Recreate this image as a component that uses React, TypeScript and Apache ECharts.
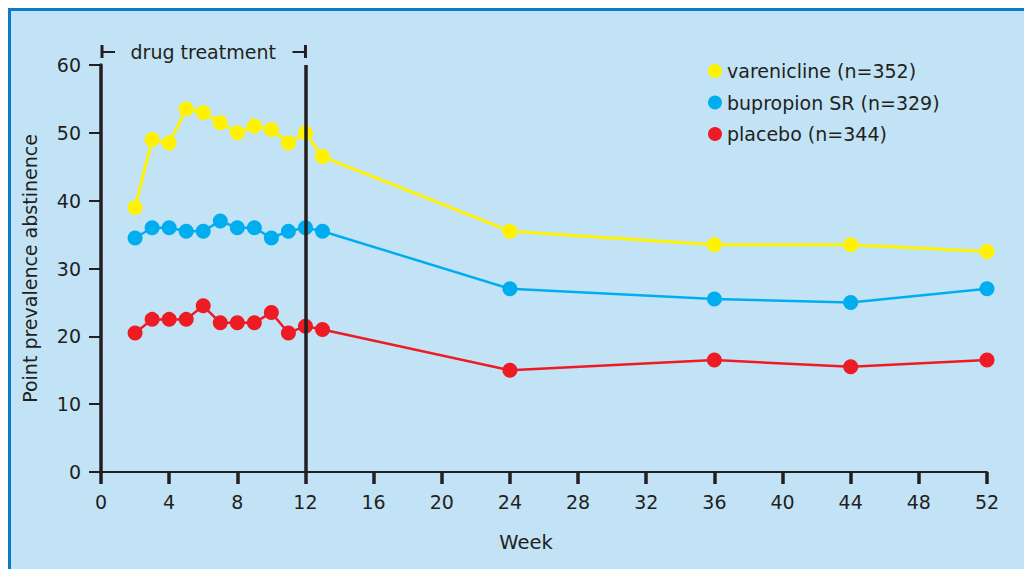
import React, { useEffect, useRef } from "react";
import * as echarts from "echarts";

const weeks = [2, 3, 4, 5, 6, 7, 8, 9, 10, 11, 12, 13, 24, 36, 44, 52];
const varenicline = [39, 49, 48.5, 53.5, 53, 51.5, 50, 51, 50.5, 48.5, 50, 46.5, 35.5, 33.5, 33.5, 32.5];
const bupropion = [34.5, 36, 36, 35.5, 35.5, 37, 36, 36, 34.5, 35.5, 36, 35.5, 27, 25.5, 25, 27];
const placebo = [20.5, 22.5, 22.5, 22.5, 24.5, 22, 22, 22, 23.5, 20.5, 21.5, 21, 15, 16.5, 15.5, 16.5];
const seriesNames = ["varenicline (n=352)", "bupropion SR (n=329)", "placebo (n=344)"];
const seriesColors = ["#fff200", "#00aeef", "#ed1c24"];
const treatmentEnd = 12;
const bracketLabel = "drug treatment";

const FONT = "DejaVu Sans";
const INK = "#231f20";

export default function App() {
  const ref = useRef<HTMLDivElement>(null);
  useEffect(() => {
    const chart = echarts.init(ref.current!, null, { renderer: "svg" });
    const mk = (name: string, vals: number[], color: string, width: number) => ({
      type: "line",
      name,
      data: weeks.map((w, i) => [w, vals[i]]),
      symbol: "circle",
      symbolSize: 15,
      itemStyle: { color },
      lineStyle: { color, width },
      z: 3,
    });
    chart.setOption({
      animation: false,
      backgroundColor: "#c2e3f5",
      textStyle: { fontFamily: FONT, color: INK },
      grid: { left: 93, right: 45, top: 57, bottom: 97 },
      legend: {
        data: seriesNames,
        orient: "vertical",
        left: 695,
        top: 48,
        icon: "circle",
        itemWidth: 14,
        itemHeight: 14,
        itemGap: 11.5,
        textStyle: { fontFamily: FONT, fontSize: 19, color: INK, lineHeight: 20 },
      },
      xAxis: {
        type: "value",
        min: 0,
        max: 52,
        interval: 4,
        name: "Week",
        nameLocation: "middle",
        nameGap: 60,
        nameTextStyle: { fontFamily: FONT, fontSize: 19.5, color: INK, padding: [0, 36, 0, 0] },
        axisLine: { show: true, lineStyle: { color: INK, width: 2 } },
        axisTick: { show: true, length: 12, lineStyle: { color: INK, width: 3.5 } },
        axisLabel: { fontFamily: FONT, fontSize: 19, color: INK, margin: 20 },
        splitLine: { show: false },
      },
      yAxis: {
        type: "value",
        min: 0,
        max: 60,
        interval: 10,
        name: "Point prevalence abstinence",
        nameLocation: "middle",
        nameGap: 62,
        nameTextStyle: { fontFamily: FONT, fontSize: 19, color: INK },
        axisLine: { show: true, lineStyle: { color: INK, width: 3.5 } },
        axisTick: { show: true, length: 12, lineStyle: { color: INK, width: 2 } },
        axisLabel: { fontFamily: FONT, fontSize: 19, color: INK, margin: 20 },
        splitLine: { show: false },
      },
      series: [
        {
          type: "line",
          name: "treatment",
          data: [],
          z: 1,
          markLine: {
            silent: true,
            symbol: "none",
            label: { show: false },
            lineStyle: { color: INK, width: 3.5, type: "solid" },
            data: [{ xAxis: treatmentEnd }],
          },
        },
        mk(seriesNames[0], varenicline, seriesColors[0], 3),
        mk(seriesNames[1], bupropion, seriesColors[1], 2.5),
        mk(seriesNames[2], placebo, seriesColors[2], 2.5),
      ],
    });
    const p0 = chart.convertToPixel({ xAxisIndex: 0, yAxisIndex: 0 }, [0, 60]) as number[];
    const p1 = chart.convertToPixel({ xAxisIndex: 0, yAxisIndex: 0 }, [treatmentEnd, 60]) as number[];
    const by = p0[1] - 13;
    const ls = { stroke: INK, lineWidth: 2 };
    chart.setOption({
      graphic: [
        { type: "rect", left: 0, top: 0, shape: { width: 3, height: 561 }, style: { fill: "#0b7dc7" }, silent: true },
        { type: "rect", left: 0, top: 0, shape: { width: 1024, height: 3 }, style: { fill: "#0b7dc7" }, silent: true },
        { type: "line", shape: { x1: p0[0] + 1, y1: by - 7, x2: p0[0] + 1, y2: by + 6 }, style: { stroke: INK, lineWidth: 3 } },
        { type: "line", shape: { x1: p0[0] + 1, y1: by, x2: p0[0] + 14, y2: by }, style: ls },
        { type: "line", shape: { x1: p1[0], y1: by - 7, x2: p1[0], y2: by + 6 }, style: { stroke: INK, lineWidth: 3 } },
        { type: "line", shape: { x1: p1[0] - 13, y1: by, x2: p1[0], y2: by }, style: ls },
        {
          type: "text",
          x: (p0[0] + p1[0]) / 2,
          y: by,
          style: {
            text: bracketLabel,
            fontFamily: FONT,
            fontSize: 19,
            fill: INK,
            align: "center",
            verticalAlign: "middle",
          },
        },
      ],
    });
    return () => chart.dispose();
  }, []);
  return <div ref={ref} style={{ width: 1024, height: 561 }} />;
}
